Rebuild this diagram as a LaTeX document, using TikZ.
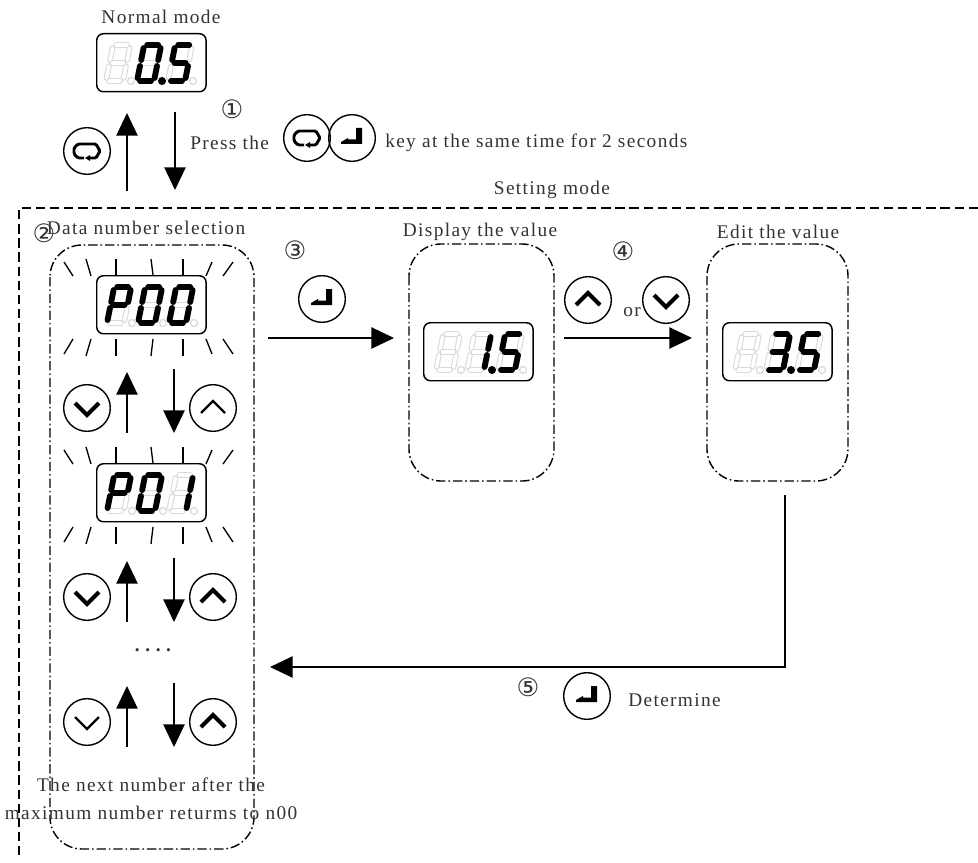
\documentclass[tikz,border=0pt]{standalone}
\usepackage{fontspec}
\usetikzlibrary{arrows.meta}
\newfontfamily\labelfont[LetterSpace=7]{Liberation Serif}
\newfontfamily\markfont{DejaVu Sans}
\definecolor{lcdghost}{gray}{0.85}
\definecolor{labelgray}{gray}{0.2}
\tikzset{
  txt/.style={font=\fontsize{14.5}{21}\labelfont, text=labelgray, inner sep=0pt},
  stepmark/.style={font=\fontsize{19}{19}\markfont, text=labelgray, inner sep=0pt},
  arr/.style={->, line width=1.05pt},
  ray/.style={line width=1pt},
  keybtn/.style={draw, circle, line width=1.05pt, minimum size=35pt, inner sep=0pt},
  lcdbox/.style={draw, fill=white, rectangle, rounded corners=5pt, line width=1.1pt,
    minimum width=82pt, minimum height=43.5pt, inner sep=0pt},
  groupbox/.style={line width=1.05pt, rounded corners=24pt, dash pattern=on 7pt off 2.2pt on 1.2pt off 2.2pt},
  lcdoff/.style={every path/.style={line width=0.8pt, double=white, double distance=2.6pt, draw=lcdghost, line cap=round}},
  lcdon/.style={every path/.style={line width=4.4pt, draw=black, line cap=round}},
  keyloop/.pic={
    \draw[line width=2.2pt, rounded corners=1pt] (-3,7) -- (-9,7) -- (-13,3) -- (-13,-3) -- (-9,-7) -- (9,-7) -- (13,0) -- (9,7) -- (3,7);
    \fill (3,4) -- (3,10) -- (-2,7) -- cycle;
  },
  keyenter/.pic={
    \fill (4,-10) -- (10,-10) -- (10,6) -- (-11,6) -- (-11,4) -- (-4,0) -- (-4,1.5) -- (4,1.5) -- cycle;
  },
  keyup/.pic={\draw (-12,5) -- (0,-7) -- (12,5);},
  keydown/.pic={\draw (-12,-5) -- (0,7) -- (12,-5);},
  chevthick/.style={line width=3pt},
  chevthin/.style={line width=1.6pt}
}
% segments of one digit
\newcommand{\sega}{\draw (3,-36) -- (14,-36);}
\newcommand{\segb}{\draw (17,-33) -- (17,-21);}
\newcommand{\segc}{\draw (17,-15) -- (17,-3);}
\newcommand{\segd}{\draw (3,0) -- (14,0);}
\newcommand{\sege}{\draw (0,-3) -- (0,-15);}
\newcommand{\segf}{\draw (0,-21) -- (0,-33);}
\newcommand{\segg}{\draw (3,-18) -- (14,-18);}
% #1 x, #2 y, #3 style, #4 segments
\newcommand{\lcddigit}[4]{
  \begin{scope}[shift={(#1,#2)}, xslant=0.2, #3]
    \foreach \s in {#4} {\csname seg\s\endcsname}
  \end{scope}
}
% #1 name, #2 left, #3 top, #4 offset, #5 #6 #7 digits, #8 lit point (0 = none)
\newcommand{\lcdpanel}[8]{
  \node[lcdbox, anchor=north west] (#1) at (#2,#3) {};
  \foreach \i in {0,1,2} {
    \lcddigit{#2+#4+31*\i}{#3+48}{lcdoff}{a,b,c,d,e,f,g}
    \draw[lcdghost, line width=0.9pt] ({#2+#4+25+31*\i},#3+48) circle (3.5);
  }
  \lcddigit{#2+#4}{#3+48}{lcdon}{#5}
  \lcddigit{#2+#4+31}{#3+48}{lcdon}{#6}
  \lcddigit{#2+#4+62}{#3+48}{lcdon}{#7}
  \ifnum#8>0 \fill ({#2+#4+25+31*(#8-1)},#3+48) circle (4); \fi
}
% #1 top line of the display
\newcommand{\blinkrays}[1]{
  \foreach \xa/\ya/\xb/\yb in {64/-13/73/1, 86/-16/91/1, 116/-16/116/0, 151/-16/153/0, 183/-16/183/0, 212/-13/206/1, 233/-13/223/1,
    64/79/73/64, 86/81/91/64, 116/81/116/64, 151/81/153/64, 183/81/183/64, 212/79/206/64, 233/79/223/64}
    \draw[ray] (\xa,#1+\ya) -- (\xb,#1+\yb);
}
\begin{document}
\begin{tikzpicture}[x=0.75pt, y=-0.75pt, >={Triangle[length=17pt,width=16pt]}]
\useasboundingbox (0,0) rectangle (978,863);
% frames
\coordinate (FR) at (978,208);
\coordinate (FC) at (19,208);
\coordinate (FB) at (19,859);
\draw[line width=1.1pt, dash pattern=on 7pt off 3.6pt] (FR) -- (FC) -- (FB);
\draw[groupbox] (50,245) rectangle (254,849);
\draw[groupbox] (409,244) rectangle (554,481);
\draw[groupbox] (707,244) rectangle (848,481);
% displays
\lcdpanel{dNormal}{96}{33}{10}{}{a,b,c,d,e,f}{a,f,g,c,d}{2}
\lcdpanel{dP00}{96}{275}{11}{a,b,e,f,g}{a,b,c,d,e,f}{a,b,c,d,e,f}{0}
\lcdpanel{dP01}{96}{463}{11}{a,b,e,f,g}{a,b,c,d,e,f}{b,c}{0}
\lcdpanel{dShow}{423}{322}{13}{}{b,c}{a,f,g,c,d}{2}
\lcdpanel{dEdit}{722}{322}{13}{}{a,b,g,c,d}{a,f,g,c,d}{2}
\blinkrays{275}
\blinkrays{463}
% keys
\node[keybtn] (kLoop) at (87,151) {};
\pic at (kLoop) {keyloop};
\node[keybtn] (kPress1) at (307,138) {};
\pic at (kPress1) {keyloop};
\node[keybtn] (kPress2) at (352,138) {};
\pic at (kPress2) {keyenter};
\node[keybtn] (kEnter1) at (322,299) {};
\pic at (kEnter1) {keyenter};
\node[keybtn] (kUp) at (588,300) {};
\pic[chevthick] at (kUp) {keyup};
\node[keybtn] (kDown) at (666,300) {};
\pic[chevthick] at (kDown) {keydown};
\node[keybtn] (kEnter2) at (587,696) {};
\pic at (kEnter2) {keyenter};
\foreach \r/\by/\sd/\su in {A/408/chevthick/chevthin, B/597/chevthick/chevthick, C/722/chevthin/chevthick} {
  \node[keybtn] (kD\r) at (87,\by) {};
  \pic[\sd] at (kD\r) {keydown};
  \node[keybtn] (kU\r) at (213,\by) {};
  \pic[\su] at (kU\r) {keyup};
  \coordinate (U\r0) at (127,\by+25);
  \coordinate (U\r1) at (127,\by-36);
  \coordinate (D\r0) at (174,\by-39);
  \coordinate (D\r1) at (174,\by+25);
  \draw[arr] (U\r0) -- (U\r1);
  \draw[arr] (D\r0) -- (D\r1);
}
% arrows
\coordinate (N0) at (127,191);
\coordinate (N1) at (127,113);
\coordinate (N2) at (175,112);
\coordinate (N3) at (175,190);
\coordinate (S0) at (268,338);
\coordinate (S1) at (394,338);
\coordinate (V0) at (564,338);
\coordinate (V1) at (692,338);
\coordinate (E0) at (785,495);
\coordinate (E1) at (785,667);
\coordinate (E2) at (270,667);
\draw[arr] (N0) -- (N1);
\draw[arr] (N2) -- (N3);
\draw[arr] (S0) -- (S1);
\draw[arr] (V0) -- (V1);
\draw[arr] (E0) -- (E1) -- (E2);
% labels
\node[txt] (tNormal) at (161,17) {Normal mode};
\node[txt, anchor=west] (tPress) at (190,143) {Press the};
\node[txt, anchor=west] (tKey) at (385,143) {key at the same time for 2 seconds};
\node[txt] (tSetting) at (552,190) {Setting mode};
\node[txt] (tData) at (146,228) {Data number selection};
\node[txt] (tShow) at (480,232) {Display the value};
\node[txt] (tEdit) at (778,232) {Edit the value};
\node[txt] (tOr) at (632,312) {or};
\node[txt, font=\fontsize{14.5}{21}\labelfont\bfseries] (tDots) at (153,650) {.\kern4.2pt.\kern4.2pt.\kern4.2pt.};
\node[txt, align=center] (tNext) at (151,799) {The next number after the\\maximum number returms to n00};
\node[txt, anchor=west] (tDet) at (628,700) {Determine};
% step marks
\node[stepmark] (m1) at (232,109) {①};
\node[stepmark] (m2) at (44,233) {②};
\node[stepmark] (m3) at (295,250) {③};
\node[stepmark] (m4) at (623,251) {④};
\node[stepmark] (m5) at (528,687) {⑤};
\end{tikzpicture}
\end{document}
